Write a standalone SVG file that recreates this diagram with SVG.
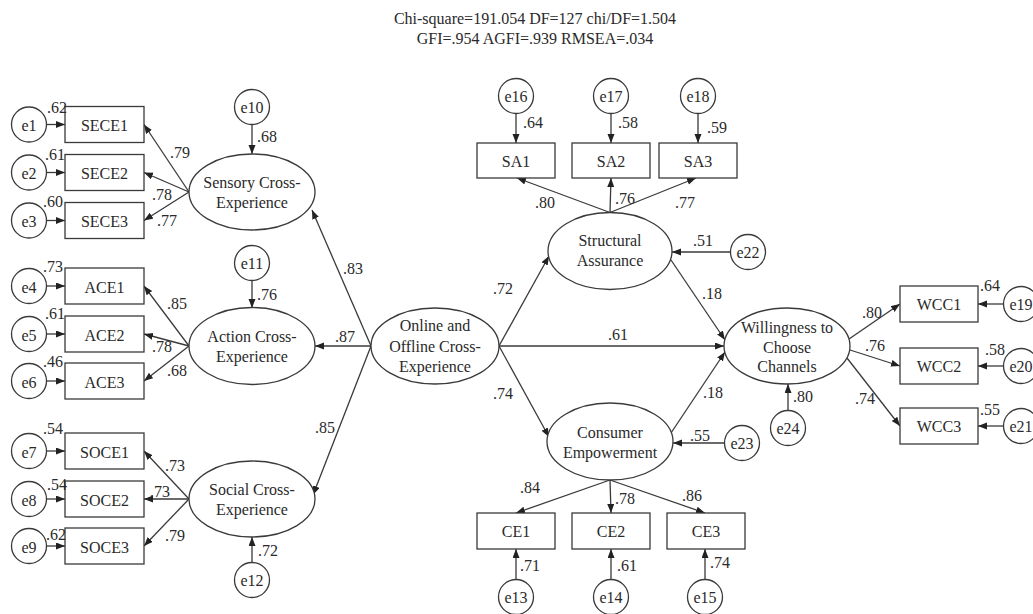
<svg xmlns="http://www.w3.org/2000/svg" width="1033" height="614" viewBox="0 0 1033 614">
<style>
text{font-family:"Liberation Serif","Times New Roman",serif;font-size:16px;fill:#2a2a2a}
.c{text-anchor:middle}
.n{fill:#fff;stroke:#3a3a3a;stroke-width:1.3}
.l{stroke:#3a3a3a;stroke-width:1.3;fill:none;marker-end:url(#a)}
</style>
<defs>
<marker id="a" markerUnits="userSpaceOnUse" markerWidth="10" markerHeight="8" refX="9" refY="3.5" orient="auto">
<path d="M0,0 L9,3.5 L0,7 z" fill="#222"/>
</marker>
</defs>
<rect width="1033" height="614" fill="#fff"/>
<g id="title">
<text class="c" x="535" y="23.5">Chi-square=191.054 DF=127 chi/DF=1.504</text>
<text class="c" x="535" y="44">GFI=.954 AGFI=.939 RMSEA=.034</text>
</g>
<g id="connectors">
<line class="l" x1="46.5" y1="124.5" x2="65" y2="124.5"/>
<line class="l" x1="46.5" y1="172.5" x2="65" y2="172.5"/>
<line class="l" x1="46.5" y1="220.5" x2="65" y2="220.5"/>
<line class="l" x1="46.5" y1="286" x2="65" y2="286"/>
<line class="l" x1="46.5" y1="334" x2="65" y2="334"/>
<line class="l" x1="46.5" y1="381" x2="65" y2="381"/>
<line class="l" x1="46.5" y1="451" x2="65" y2="451"/>
<line class="l" x1="46.5" y1="499" x2="65" y2="499"/>
<line class="l" x1="46.5" y1="546" x2="65" y2="546"/>
<line class="l" x1="189" y1="192" x2="144" y2="124.5"/>
<line class="l" x1="189" y1="192" x2="144" y2="172.5"/>
<line class="l" x1="189" y1="192" x2="144" y2="220.5"/>
<line class="l" x1="189" y1="346" x2="144" y2="286"/>
<line class="l" x1="189" y1="346" x2="144" y2="334"/>
<line class="l" x1="189" y1="346" x2="144" y2="381"/>
<line class="l" x1="189" y1="499" x2="144" y2="451"/>
<line class="l" x1="189" y1="499" x2="144" y2="499"/>
<line class="l" x1="189" y1="499" x2="144" y2="546"/>
<line class="l" x1="252" y1="124.5" x2="252" y2="154"/>
<line class="l" x1="252" y1="280.5" x2="252" y2="308"/>
<line class="l" x1="252" y1="562.5" x2="252" y2="537"/>
<line class="l" x1="371" y1="346" x2="312" y2="210"/>
<line class="l" x1="371" y1="346" x2="315" y2="346"/>
<line class="l" x1="371" y1="346" x2="313" y2="495"/>
<line class="l" x1="499" y1="346" x2="549" y2="256"/>
<line class="l" x1="499" y1="346" x2="724" y2="346"/>
<line class="l" x1="499" y1="346" x2="549" y2="437"/>
<line class="l" x1="610" y1="212.5" x2="517" y2="178"/>
<line class="l" x1="610" y1="212.5" x2="611" y2="178"/>
<line class="l" x1="610" y1="212.5" x2="696" y2="178"/>
<line class="l" x1="516" y1="113.5" x2="516" y2="143"/>
<line class="l" x1="611" y1="113.5" x2="611" y2="143"/>
<line class="l" x1="698" y1="113.5" x2="698" y2="143"/>
<line class="l" x1="730.5" y1="252" x2="672" y2="252"/>
<line class="l" x1="671" y1="260" x2="725" y2="340"/>
<line class="l" x1="671" y1="433" x2="725" y2="352"/>
<line class="l" x1="724.5" y1="443" x2="673" y2="443"/>
<line class="l" x1="788" y1="410.5" x2="788" y2="384"/>
<line class="l" x1="849" y1="339" x2="900" y2="304"/>
<line class="l" x1="850" y1="350" x2="900" y2="366"/>
<line class="l" x1="847" y1="358" x2="900" y2="426"/>
<line class="l" x1="1003.5" y1="304" x2="978" y2="304"/>
<line class="l" x1="1003.5" y1="366" x2="978" y2="366"/>
<line class="l" x1="1003.5" y1="426" x2="978" y2="426"/>
<line class="l" x1="610" y1="480" x2="516" y2="513"/>
<line class="l" x1="610" y1="480" x2="611" y2="513"/>
<line class="l" x1="610" y1="480" x2="705" y2="513"/>
<line class="l" x1="516" y1="579.5" x2="516" y2="549"/>
<line class="l" x1="611" y1="579.5" x2="611" y2="549"/>
<line class="l" x1="705" y1="579.5" x2="705" y2="549"/>
</g>
<g id="e1"><circle class="n" cx="29" cy="124.5" r="17.5"/><text class="c" x="29" y="131">e1</text></g>
<g id="e2"><circle class="n" cx="29" cy="172.5" r="17.5"/><text class="c" x="29" y="179">e2</text></g>
<g id="e3"><circle class="n" cx="29" cy="220.5" r="17.5"/><text class="c" x="29" y="227">e3</text></g>
<g id="e4"><circle class="n" cx="29" cy="286" r="17.5"/><text class="c" x="29" y="292.5">e4</text></g>
<g id="e5"><circle class="n" cx="29" cy="334" r="17.5"/><text class="c" x="29" y="340.5">e5</text></g>
<g id="e6"><circle class="n" cx="29" cy="381" r="17.5"/><text class="c" x="29" y="387.5">e6</text></g>
<g id="e7"><circle class="n" cx="29" cy="451" r="17.5"/><text class="c" x="29" y="457.5">e7</text></g>
<g id="e8"><circle class="n" cx="29" cy="499" r="17.5"/><text class="c" x="29" y="505.5">e8</text></g>
<g id="e9"><circle class="n" cx="29" cy="546" r="17.5"/><text class="c" x="29" y="552.5">e9</text></g>
<g id="SECE1"><rect class="n" x="65" y="106.5" width="79" height="36"/><text class="c" x="104.5" y="131">SECE1</text></g>
<g id="SECE2"><rect class="n" x="65" y="154.5" width="79" height="36"/><text class="c" x="104.5" y="179">SECE2</text></g>
<g id="SECE3"><rect class="n" x="65" y="202.5" width="79" height="36"/><text class="c" x="104.5" y="227">SECE3</text></g>
<g id="ACE1"><rect class="n" x="65" y="268" width="79" height="36"/><text class="c" x="104.5" y="292.5">ACE1</text></g>
<g id="ACE2"><rect class="n" x="65" y="316" width="79" height="36"/><text class="c" x="104.5" y="340.5">ACE2</text></g>
<g id="ACE3"><rect class="n" x="65" y="363" width="79" height="36"/><text class="c" x="104.5" y="387.5">ACE3</text></g>
<g id="SOCE1"><rect class="n" x="65" y="433" width="79" height="36"/><text class="c" x="104.5" y="457.5">SOCE1</text></g>
<g id="SOCE2"><rect class="n" x="65" y="481" width="79" height="36"/><text class="c" x="104.5" y="505.5">SOCE2</text></g>
<g id="SOCE3"><rect class="n" x="65" y="528" width="79" height="36"/><text class="c" x="104.5" y="552.5">SOCE3</text></g>
<g id="e10"><circle class="n" cx="252" cy="107" r="17.5"/><text class="c" x="252" y="113">e10</text></g>
<g id="e11"><circle class="n" cx="252" cy="263" r="17.5"/><text class="c" x="252" y="269">e11</text></g>
<g id="e12"><circle class="n" cx="252" cy="580" r="17.5"/><text class="c" x="252" y="586">e12</text></g>
<g id="sensory"><ellipse class="n" cx="252" cy="192" rx="63" ry="38"/><text class="c" x="252" y="188">Sensory Cross-</text><text class="c" x="252" y="208">Experience</text></g>
<g id="action"><ellipse class="n" cx="252" cy="346" rx="63" ry="38.5"/><text class="c" x="252" y="342">Action Cross-</text><text class="c" x="252" y="362">Experience</text></g>
<g id="social"><ellipse class="n" cx="252" cy="499" rx="63" ry="38"/><text class="c" x="252" y="495">Social Cross-</text><text class="c" x="252" y="515">Experience</text></g>
<g id="online"><ellipse class="n" cx="435" cy="346" rx="64" ry="38"/><text class="c" x="435" y="331">Online and</text><text class="c" x="435" y="351.5">Offline Cross-</text><text class="c" x="435" y="371.5">Experience</text></g>
<g id="structural"><ellipse class="n" cx="610" cy="251" rx="62" ry="38.5"/><text class="c" x="610" y="246">Structural</text><text class="c" x="610" y="266">Assurance</text></g>
<g id="consumer"><ellipse class="n" cx="610" cy="441.5" rx="63" ry="38.5"/><text class="c" x="610" y="437.5">Consumer</text><text class="c" x="610" y="457.5">Empowerment</text></g>
<g id="willingness"><ellipse class="n" cx="787" cy="346" rx="63" ry="38"/><text class="c" x="787" y="332.5">Willingness to</text><text class="c" x="787" y="353">Choose</text><text class="c" x="787" y="372">Channels</text></g>
<g id="e16"><circle class="n" cx="516" cy="96" r="17.5"/><text class="c" x="516" y="102">e16</text></g>
<g id="e17"><circle class="n" cx="611" cy="96" r="17.5"/><text class="c" x="611" y="102">e17</text></g>
<g id="e18"><circle class="n" cx="698" cy="96" r="17.5"/><text class="c" x="698" y="102">e18</text></g>
<g id="SA1"><rect class="n" x="477" y="143" width="78" height="35"/><text class="c" x="516" y="167">SA1</text></g>
<g id="SA2"><rect class="n" x="572" y="143" width="78" height="35"/><text class="c" x="611" y="167">SA2</text></g>
<g id="SA3"><rect class="n" x="659" y="143" width="78" height="35"/><text class="c" x="698" y="167">SA3</text></g>
<g id="e22"><circle class="n" cx="748" cy="252" r="17.5"/><text class="c" x="748" y="258">e22</text></g>
<g id="e23"><circle class="n" cx="742" cy="443" r="17.5"/><text class="c" x="742" y="449">e23</text></g>
<g id="e24"><circle class="n" cx="788" cy="428" r="17.5"/><text class="c" x="788" y="434">e24</text></g>
<g id="WCC1"><rect class="n" x="900" y="286" width="78" height="36"/><text class="c" x="939" y="310">WCC1</text></g>
<g id="WCC2"><rect class="n" x="900" y="348" width="78" height="36"/><text class="c" x="939" y="372">WCC2</text></g>
<g id="WCC3"><rect class="n" x="900" y="408" width="78" height="36"/><text class="c" x="939" y="432">WCC3</text></g>
<g id="e19"><circle class="n" cx="1021" cy="304" r="17.5"/><text class="c" x="1021" y="310">e19</text></g>
<g id="e20"><circle class="n" cx="1021" cy="366" r="17.5"/><text class="c" x="1021" y="372">e20</text></g>
<g id="e21"><circle class="n" cx="1021" cy="426" r="17.5"/><text class="c" x="1021" y="432">e21</text></g>
<g id="CE1"><rect class="n" x="477" y="513" width="78" height="36"/><text class="c" x="516" y="537">CE1</text></g>
<g id="CE2"><rect class="n" x="572" y="513" width="78" height="36"/><text class="c" x="611" y="537">CE2</text></g>
<g id="CE3"><rect class="n" x="667" y="513" width="78" height="36"/><text class="c" x="706" y="537">CE3</text></g>
<g id="e13"><circle class="n" cx="516" cy="597" r="17.5"/><text class="c" x="516" y="603">e13</text></g>
<g id="e14"><circle class="n" cx="611" cy="597" r="17.5"/><text class="c" x="611" y="603">e14</text></g>
<g id="e15"><circle class="n" cx="705" cy="597" r="17.5"/><text class="c" x="705" y="603">e15</text></g>
<g id="labels">
<text x="47" y="113">.62</text><text x="45" y="160">.61</text><text x="43" y="207">.60</text>
<text x="43" y="272">.73</text><text x="45" y="319">.61</text><text x="43" y="367">.46</text>
<text x="43" y="434">.54</text><text x="47" y="490">.54</text><text x="46" y="540">.62</text>
<text x="170" y="158">.79</text><text x="152" y="200">.78</text><text x="157" y="226">.77</text>
<text x="167" y="309">.85</text><text x="152" y="352">.78</text><text x="167" y="376">.68</text>
<text x="165" y="471">.73</text><text x="150" y="497">.73</text><text x="165" y="541">.79</text>
<text x="257" y="142">.68</text><text x="257" y="300">.76</text><text x="258" y="556">.72</text>
<text x="343" y="274">.83</text><text x="335" y="342">.87</text><text x="315" y="433">.85</text>
<text x="493" y="294">.72</text><text x="608" y="340">.61</text><text x="493" y="399">.74</text>
<text x="523" y="128">.64</text><text x="618" y="128">.58</text><text x="707" y="133">.59</text>
<text x="535" y="208">.80</text><text x="615" y="204">.76</text><text x="675" y="208">.77</text>
<text x="693" y="246">.51</text><text x="702" y="299">.18</text><text x="703" y="398">.18</text>
<text x="690" y="441">.55</text><text x="793" y="402">.80</text>
<text x="862" y="318">.80</text><text x="865" y="351">.76</text><text x="855" y="404">.74</text>
<text x="980" y="291">.64</text><text x="985" y="355">.58</text><text x="980" y="415">.55</text>
<text x="520" y="493">.84</text><text x="615" y="504">.78</text><text x="682" y="501">.86</text>
<text x="520" y="571">.71</text><text x="617" y="571">.61</text><text x="710" y="568">.74</text>
</g>
</svg>
